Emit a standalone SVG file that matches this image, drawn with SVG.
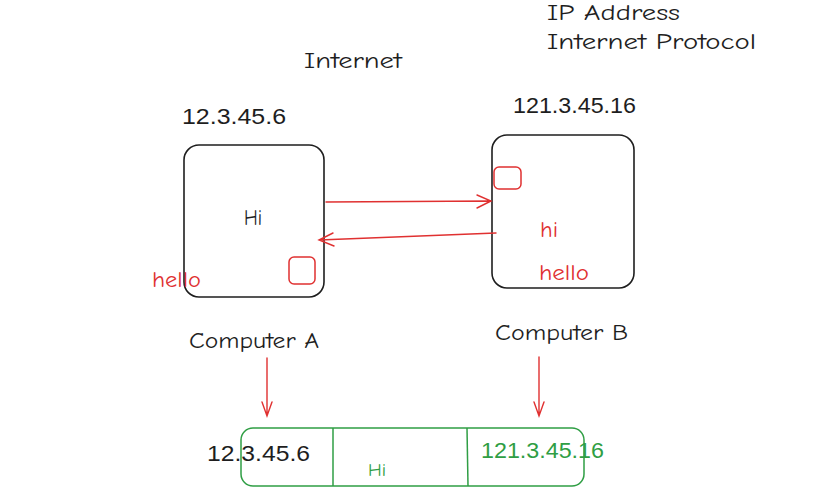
<svg xmlns="http://www.w3.org/2000/svg" width="822" height="495" viewBox="0 0 822 495">
<style>
text{font-family:"Comic Neue","DejaVu Sans",sans-serif;}
.k{fill:#1e1e1e;font-size:23px;}
.n{font-family:"Liberation Sans","Arial",sans-serif;font-size:22px;}
.r{fill:#e03131;font-size:23px;}
.g{fill:#2f9e44;}
.box{fill:none;stroke:#1e1e1e;stroke-width:1.6;}
.rb{fill:none;stroke:#e03131;stroke-width:1.5;}
.gb{fill:none;stroke:#2f9e44;stroke-width:1.5;}
.ar{fill:none;stroke:#e03131;stroke-width:1.4;stroke-linecap:round;}
</style>
<rect width="822" height="495" fill="#ffffff"/>
<g id="titles">
<text class="k" x="547" y="20" textLength="133" lengthAdjust="spacingAndGlyphs">IP Address</text>
<text class="k" x="547" y="49" textLength="209" lengthAdjust="spacingAndGlyphs">Internet Protocol</text>
<text class="k" x="304" y="68" textLength="98" lengthAdjust="spacingAndGlyphs">Internet</text>
</g>
<g id="computerA">
<text class="k n" x="182" y="124" textLength="104" lengthAdjust="spacingAndGlyphs">12.3.45.6</text>
<rect class="box" x="184" y="145" width="140" height="152" rx="15"/>
<text class="k" x="244" y="225" font-size="19" textLength="18" lengthAdjust="spacingAndGlyphs">Hi</text>
<rect class="rb" x="289" y="257" width="26" height="27" rx="5"/>
<text class="r" x="152" y="287" textLength="49" lengthAdjust="spacingAndGlyphs">hello</text>
<text class="k" x="189" y="348" textLength="130" lengthAdjust="spacingAndGlyphs">Computer A</text>
</g>
<g id="computerB">
<text class="k n" x="513" y="113" textLength="123" lengthAdjust="spacingAndGlyphs">121.3.45.16</text>
<rect class="box" x="492" y="135" width="142" height="153" rx="15"/>
<rect class="rb" x="494" y="167" width="27" height="22" rx="5"/>
<text class="r" x="540" y="237" textLength="18" lengthAdjust="spacingAndGlyphs">hi</text>
<text class="r" x="539" y="280" textLength="50" lengthAdjust="spacingAndGlyphs">hello</text>
<text class="k" x="495" y="340" textLength="133" lengthAdjust="spacingAndGlyphs">Computer B</text>
</g>
<g id="packet">
<rect class="gb" x="241" y="428" width="343" height="58" rx="12"/>
<line class="gb" x1="333" y1="428" x2="333" y2="486"/>
<line class="gb" x1="467" y1="428" x2="468" y2="486"/>
<text class="k n" x="207" y="461" textLength="103" lengthAdjust="spacingAndGlyphs">12.3.45.6</text>
<text class="g" x="368" y="476" font-size="19" textLength="18" lengthAdjust="spacingAndGlyphs">Hi</text>
<text class="g n" x="481" y="458" textLength="123" lengthAdjust="spacingAndGlyphs">121.3.45.16</text>
</g>
<g id="connectors">
<path class="ar" d="M326 202 L491 201 M477 195 L491 201 L477 208"/>
<path class="ar" d="M496 233 L319 240 M333 233 L319 240 L334 246"/>
<path class="ar" d="M267 358 L267 416 M262 402 L267 416 L272 402"/>
<path class="ar" d="M539 357 L539 416 M534 402 L539 416 L544 402"/>
</g>
</svg>
